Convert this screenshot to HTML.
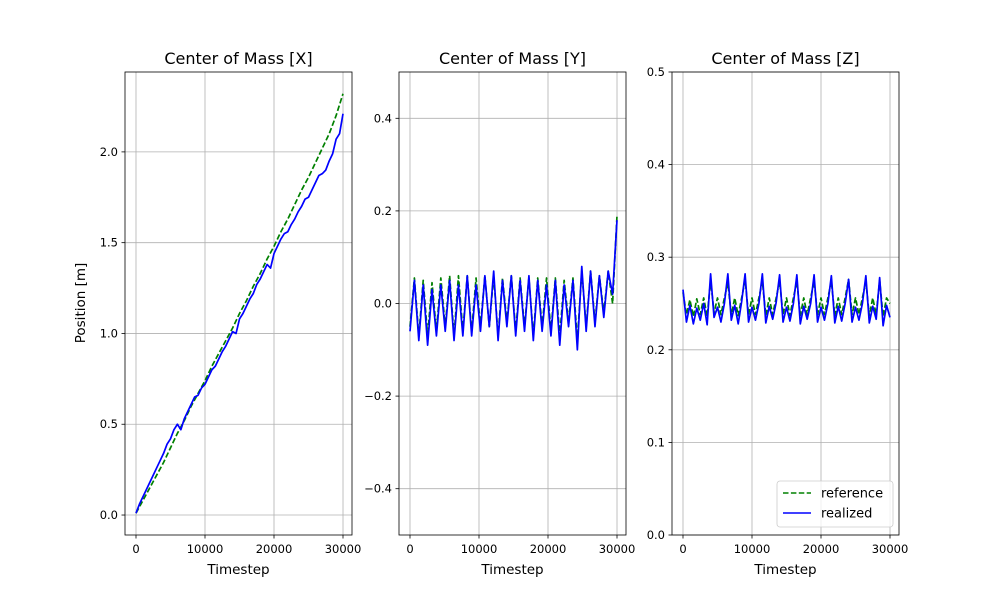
<!DOCTYPE html>
<html><head><meta charset="utf-8"><style>
body{margin:0;background:#fff;}
svg text{font-family:"DejaVu Sans","Liberation Sans",sans-serif;}
</style></head><body>
<svg id="fig" width="1000" height="600" xmlns="http://www.w3.org/2000/svg"></svg>
<script>
// ---- data ----
const xRef = [0.01,0.08,0.15,0.22,0.29,0.37,0.45,0.52,0.60,0.67,0.74,0.82,0.89,0.96,1.03,1.11,1.18,1.26,1.33,1.41,1.48,1.56,1.63,1.71,1.79,1.86,1.94,2.02,2.10,2.20,2.32];
const xReal = [0.01,0.06,0.10,0.14,0.18,0.22,0.26,0.30,0.34,0.39,0.42,0.47,0.50,0.47,0.53,0.57,0.61,0.65,0.66,0.70,0.72,0.76,0.80,0.82,0.86,0.90,0.93,0.97,1.01,1.00,1.08,1.11,1.15,1.19,1.22,1.27,1.30,1.34,1.38,1.36,1.44,1.48,1.52,1.55,1.56,1.60,1.63,1.67,1.70,1.74,1.75,1.79,1.83,1.87,1.88,1.90,1.95,1.99,2.07,2.10,2.21];
const yReal = [-0.06,0.05,-0.08,0.04,-0.09,0.03,-0.07,0.04,-0.06,0.05,-0.08,0.04,-0.07,0.06,-0.07,0.04,-0.06,0.06,-0.05,0.07,-0.08,0.05,-0.05,0.06,-0.07,0.05,-0.06,0.06,-0.08,0.05,-0.06,0.04,-0.07,0.05,-0.09,0.04,-0.05,0.05,-0.10,0.08,-0.06,0.07,-0.05,0.06,-0.03,0.07,0.02,0.18];
const yRef = [-0.05,0.055,-0.07,0.05,-0.07,0.045,-0.06,0.055,-0.05,0.06,-0.07,0.06,-0.06,0.06,-0.06,0.055,-0.05,0.06,-0.05,0.06,-0.07,0.055,-0.04,0.06,-0.06,0.055,-0.05,0.055,-0.07,0.055,-0.05,0.055,-0.06,0.055,-0.07,0.05,-0.04,0.055,-0.08,0.07,-0.05,0.07,-0.04,0.06,-0.02,0.07,0.0,0.19];
const zReal = [0.265,0.230,0.248,0.228,0.245,0.232,0.250,0.227,0.282,0.235,0.246,0.230,0.250,0.282,0.232,0.248,0.228,0.252,0.282,0.230,0.246,0.232,0.250,0.282,0.229,0.247,0.233,0.251,0.281,0.230,0.246,0.231,0.250,0.281,0.228,0.247,0.233,0.250,0.281,0.230,0.246,0.232,0.250,0.280,0.229,0.247,0.231,0.250,0.276,0.230,0.246,0.232,0.250,0.280,0.229,0.247,0.233,0.278,0.226,0.248,0.235];
const zRef = [0.262,0.238,0.254,0.236,0.255,0.238,0.256,0.236,0.275,0.240,0.256,0.238,0.256,0.272,0.238,0.256,0.237,0.256,0.275,0.238,0.256,0.238,0.256,0.274,0.237,0.256,0.238,0.256,0.274,0.238,0.256,0.237,0.256,0.274,0.237,0.256,0.238,0.256,0.274,0.238,0.256,0.238,0.256,0.274,0.237,0.256,0.238,0.256,0.276,0.238,0.256,0.238,0.256,0.274,0.237,0.256,0.238,0.275,0.236,0.256,0.250];
const xTicks = [0,10000,20000,30000];
const p1Ticks = [0.0,0.5,1.0,1.5,2.0];
const p2Ticks = [-0.4,-0.2,0.0,0.2,0.4];
const p3Ticks = [0.0,0.1,0.2,0.3,0.4,0.5];

const NS="http://www.w3.org/2000/svg";
const svg=document.getElementById('fig');
function mk(tag,attrs,parent){const e=document.createElementNS(NS,tag);for(const k in attrs)e.setAttribute(k,attrs[k]);(parent||svg).appendChild(e);return e;}
function stepsFor(n){const a=[];for(let i=0;i<n;i++)a.push(i*30000/(n-1));return a;}

function panel(name,left,right,title,ymin,ymax,yTicks,yFmt,series,ylabel){
  const top=72,bot=535;
  const xmin=-1594,xmax=31304;
  const sx=v=>left+(v-xmin)/(xmax-xmin)*(right-left);
  const sy=v=>bot-(v-ymin)/(ymax-ymin)*(bot-top);
  const g=mk('g',{});
  
  
  const grid=mk('g',{},g);
  
  
  xTicks.forEach(t=>{
    mk('line',{x1:sx(t),x2:sx(t),y1:top,y2:bot,stroke:'#b0b0b0','stroke-width':0.8},grid);
    mk('line',{x1:sx(t),x2:sx(t),y1:bot,y2:bot+3.5,stroke:'#000','stroke-width':0.8},g);
    const tx=mk('text',{x:sx(t),y:bot+18,'font-size':11.5,'text-anchor':'middle'},g);
    tx.textContent=String(t);
    
    
  });
  yTicks.forEach(t=>{
    mk('line',{x1:left,x2:right,y1:sy(t),y2:sy(t),stroke:'#b0b0b0','stroke-width':0.8},grid);
    mk('line',{x1:left-3.5,x2:left,y1:sy(t),y2:sy(t),stroke:'#000','stroke-width':0.8},g);
    const tx=mk('text',{x:left-7,y:sy(t)+4,'font-size':11.5,'text-anchor':'end'},g);
    tx.textContent=yFmt(t);
    
    
  });
  const clipId='c'+name;
  const cp=mk('clipPath',{id:clipId},g);mk('rect',{x:left,y:top,width:right-left,height:bot-top},cp);
  series.forEach(s=>{
    const xs=stepsFor(s.y.length);
    const d=s.y.map((v,i)=>(i?'L':'M')+sx(xs[i]).toFixed(2)+','+sy(v).toFixed(2)).join('');
    const p=mk('path',{d:d,fill:'none',stroke:s.color,'stroke-width':1.7,'stroke-linejoin':'round','clip-path':'url(#'+clipId+')'},g);
    if(s.dash)p.setAttribute('stroke-dasharray','5.5,2.4');
    
    
  });
  mk('rect',{x:left,y:top,width:right-left,height:bot-top,fill:'none',stroke:'#000','stroke-width':0.8},g);
  const tt=mk('text',{x:(left+right)/2,y:64,'font-size':16,'text-anchor':'middle'},g);
  tt.textContent=title;
  
  
  const xl=mk('text',{x:(left+right)/2,y:574,'font-size':13.5,'text-anchor':'middle'},g);
  xl.textContent='Timestep';
  
  
  if(ylabel){
    const yl=mk('text',{x:0,y:0,'font-size':13.5,'text-anchor':'middle',transform:'translate(85,303) rotate(-90)'},g);
    yl.textContent=ylabel;
    
    
  }
}
panel('panel-x',125,352,'Center of Mass [X]',-0.11,2.44,p1Ticks,t=>t.toFixed(1),
  [{y:xRef,color:'#008000',dash:true,name:'reference-line-x'},{y:xReal,color:'#0000ff',name:'realized-line-x'}],'Position [m]');
panel('panel-y',399,626,'Center of Mass [Y]',-0.5,0.5,p2Ticks,t=>(t<0?'\u2212':'')+Math.abs(t).toFixed(1),
  [{y:yRef,color:'#008000',dash:true,name:'reference-line-y'},{y:yReal,color:'#0000ff',name:'realized-line-y'}]);
panel('panel-z',672,899,'Center of Mass [Z]',0,0.5,p3Ticks,t=>t.toFixed(1),
  [{y:zRef,color:'#008000',dash:true,name:'reference-line-z'},{y:zReal,color:'#0000ff',name:'realized-line-z'}]);

// legend
const lg=mk('g',{});


mk('rect',{x:777,y:481,width:116,height:46,rx:3,fill:'#fff','fill-opacity':0.8,stroke:'#ccc','stroke-width':0.8},lg);
const e1=mk('g',{},lg);


mk('line',{x1:783,x2:811,y1:493,y2:493,stroke:'#008000','stroke-width':1.5,'stroke-dasharray':'5.5,2.4'},e1);
const t1=mk('text',{x:821,y:497.5,'font-size':13},e1);t1.textContent='reference';
const e2=mk('g',{},lg);


mk('line',{x1:783,x2:811,y1:513,y2:513,stroke:'#0000ff','stroke-width':1.5},e2);
const t2=mk('text',{x:821,y:517.5,'font-size':13},e2);t2.textContent='realized';
</script>
</body></html>
